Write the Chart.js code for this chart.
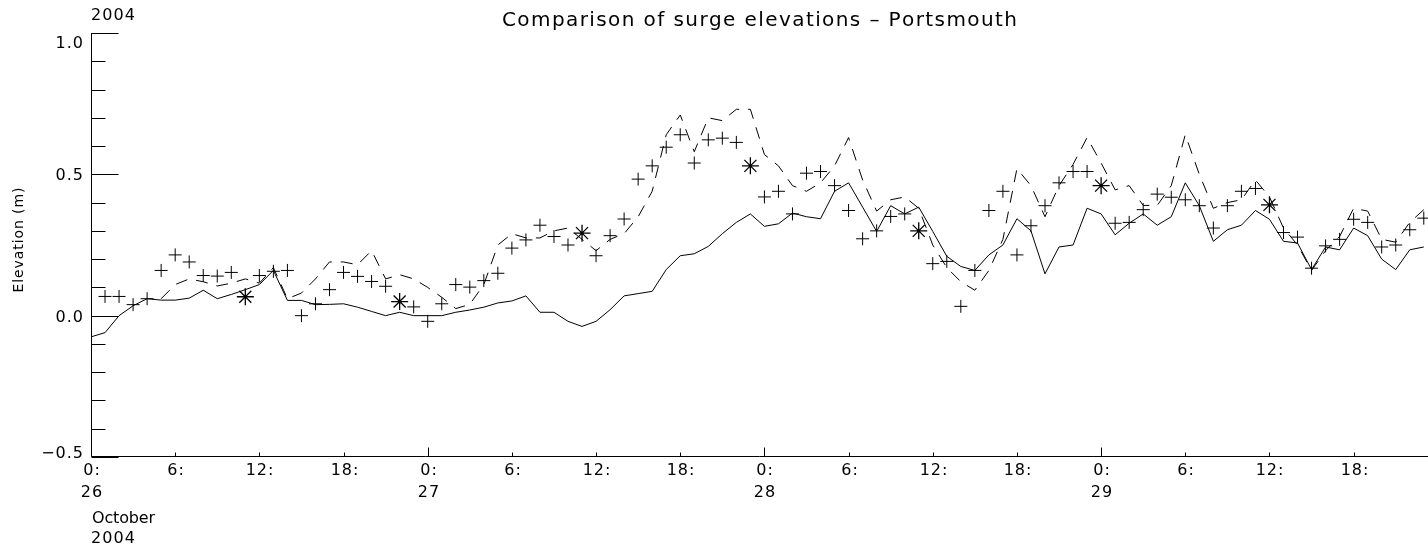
<!DOCTYPE html>
<html>
<head>
<meta charset="utf-8">
<script src="https://cdn.jsdelivr.net/npm/chart.js@4/dist/chart.umd.min.js"></script>
<style>
  html, body { margin: 0; padding: 0; background: #fff; overflow: hidden; }
  canvas { display: block; }
</style>
</head>
<body>
<canvas id="surge" width="1428" height="548"></canvas>
<script>
// one value per hour, starting 0:00 26 October 2004
const modelSolid = [
  -0.075, -0.06, 0.0, 0.035, 0.06, 0.055, 0.055, 0.062, 0.09, 0.06,
  0.075, 0.092, 0.11, 0.16, 0.054, 0.054, 0.039, 0.04, 0.042, 0.03,
  0.015, 0.0, 0.012, 0.0, 0.0, 0.0, 0.012, 0.02, 0.03, 0.045,
  0.052, 0.07, 0.012, 0.012, -0.02, -0.038, -0.02, 0.021, 0.07, 0.078,
  0.086, 0.163, 0.212, 0.219, 0.245, 0.29, 0.33, 0.36, 0.316, 0.325,
  0.363, 0.35, 0.343, 0.44, 0.47, 0.384, 0.298, 0.389, 0.36, 0.384,
  0.298, 0.21, 0.174, 0.16, 0.215, 0.25, 0.343, 0.30, 0.148, 0.243,
  0.25, 0.38, 0.36, 0.286, 0.327, 0.36, 0.32, 0.35, 0.47, 0.389,
  0.263, 0.304, 0.32, 0.372, 0.341, 0.263, 0.257, 0.163, 0.243, 0.233,
  0.31, 0.283, 0.2, 0.163, 0.233, 0.243
];

const modelDashed = [
  null, null, null, null, null, 0.06, 0.11, 0.13, 0.12, 0.105,
  0.115, 0.13, 0.115, 0.17, 0.06, 0.08, 0.13, 0.19, 0.19, 0.18,
  0.23, 0.13, 0.145, 0.13, 0.10, 0.065, 0.025, 0.04, 0.11, 0.25,
  0.29, 0.275, 0.275, 0.30, 0.31, 0.27, 0.23, 0.27, 0.29, 0.35,
  0.44, 0.64, 0.71, 0.58, 0.70, 0.69, 0.73, 0.73, 0.57, 0.53,
  0.46, 0.44, 0.47, 0.53, 0.63, 0.48, 0.37, 0.41, 0.42, 0.38,
  0.25, 0.17, 0.12, 0.09, 0.16, 0.27, 0.52, 0.46, 0.35, 0.46,
  0.535, 0.63, 0.54, 0.445, 0.46, 0.39, 0.39, 0.46, 0.64, 0.50,
  0.38, 0.40, 0.41, 0.48, 0.42, 0.31, 0.25, 0.16, 0.23, 0.28,
  0.38, 0.37, 0.27, 0.26, 0.33, 0.375
];

const observed = [
  null, 0.068, 0.068, 0.039, 0.06, 0.16, 0.215, 0.19, 0.142, 0.14,
  0.153, null, 0.142, 0.157, 0.16, 0.0, 0.042, 0.092, 0.153, 0.139,
  0.121, 0.104, null, 0.031, -0.02, 0.042, 0.11, 0.101, 0.124, 0.15,
  0.239, 0.268, 0.32, 0.28, 0.25, null, 0.212, 0.283, 0.342, 0.483,
  0.53, 0.596, 0.64, 0.54, 0.622, 0.628, 0.613, null, 0.42, 0.44,
  0.36, 0.504, 0.51, 0.46, 0.372, 0.272, 0.30, 0.351, 0.36, null,
  0.184, 0.192, 0.033, 0.16, 0.372, 0.44, 0.215, 0.318, 0.389, 0.47,
  0.51, 0.51, null, 0.327, 0.33, 0.375, 0.43, 0.419, 0.41, 0.389,
  0.31, 0.389, 0.44, 0.45, null, 0.294, 0.278, 0.168, 0.247, 0.27,
  0.341, 0.33, 0.243, 0.25, 0.304, 0.345
];

// high water observations (asterisks)
const hwHours = [11, 22, 35, 47, 59, 72, 84];
const hwValues = [0.067, 0.05, 0.292, 0.53, 0.30, 0.46, 0.392];

const hourLabels = ['0:', '6:', '12:', '18:'];
const dayLabels = ['26', '27', '28', '29'];
const yTickValues = [-0.5, 0.0, 0.5, 1.0];
const yTickLabels = ['\u22120.5', '0.0', '0.5', '1.0'];

const toPoints = vals => vals.map((v, h) => ({x: h, y: v}));

// draws text char by char so the spacing can be stretched like the IDL font
function spaced(ctx, text, x, y, opts) {
    const chars = [...text];
    const widths = chars.map(c => ctx.measureText(c).width);
    const raw = widths.reduce((a, b) => a + b, 0);
    let gap = opts.gap || 0;
    if (opts.width) gap = (opts.width - raw) / (chars.length - 1);
    const total = raw + gap * (chars.length - 1);
    let left = x;
    if (opts.align === 'center') left = x - total / 2;
    if (opts.align === 'right') left = x - total;
    chars.forEach((c, i) => {
        ctx.fillText(c, left, y);
        left += widths[i] + gap;
    });
}

const idlAxes = {
    id: 'idlAxes',
    afterDraw(chart) {
        const ctx = chart.ctx;
        const xs = chart.scales.x;
        const ys = chart.scales.y;
        const area = chart.chartArea;
        const left = Math.round(area.left) + 0.5;
        const bottom = Math.round(area.bottom) - 0.5;

        ctx.save();
        ctx.strokeStyle = '#000';
        ctx.fillStyle = '#000';
        ctx.lineWidth = 1;
        ctx.textAlign = 'left';
        ctx.textBaseline = 'alphabetic';

        // axis lines
        ctx.beginPath();
        ctx.moveTo(left, area.top);
        ctx.lineTo(left, bottom);
        ctx.lineTo(area.right, bottom);
        ctx.stroke();

        // y ticks every 0.1, long ones every 0.5
        for (let k = -5; k <= 10; k++) {
            const py = Math.round(ys.getPixelForValue(k / 10)) + 0.5;
            const len = k % 5 === 0 ? 27 : 14;
            ctx.beginPath();
            ctx.moveTo(left, py);
            ctx.lineTo(left + len, py);
            ctx.stroke();
        }

        // x ticks every 6 hours, longer at midnight
        ctx.font = '16px "DejaVu Sans"';
        for (let h = 0; h <= xs.max; h += 6) {
            const px = Math.round(xs.getPixelForValue(h)) + 0.5;
            const len = h % 24 === 0 ? 9 : 4;
            ctx.beginPath();
            ctx.moveTo(px, bottom);
            ctx.lineTo(px, bottom - len);
            ctx.stroke();
            spaced(ctx, hourLabels[(h / 6) % 4], px, 475, {gap: 1, align: 'center'});
            if (h % 24 === 0) {
                spaced(ctx, dayLabels[h / 24], px, 497, {gap: 1, align: 'center'});
            }
        }

        spaced(ctx, 'October', 92, 523, {width: 63});
        spaced(ctx, '2004', 91, 543, {width: 44});
        spaced(ctx, '2004', 91, 20, {width: 44});

        // y tick labels (IDL nudges the end labels inside the axis range)
        const nudge = {'-0.5': -5, '1': 9};
        yTickValues.forEach((v, i) => {
            const py = ys.getPixelForValue(v) + 6 + (nudge[String(v)] || 0);
            spaced(ctx, yTickLabels[i], 83, py, {gap: 1, align: 'right'});
        });

        // title
        ctx.font = '20px "DejaVu Sans"';
        spaced(ctx, 'Comparison of surge elevations \u2013 Portsmouth', (area.left + area.right) / 2, 26,
            {width: 515, align: 'center'});

        // y axis title
        ctx.font = '14px "DejaVu Sans"';
        ctx.translate(23, 240);
        ctx.rotate(-Math.PI / 2);
        spaced(ctx, 'Elevation (m)', 0, 0, {width: 105, align: 'center'});
        ctx.restore();
    }
};

new Chart(document.getElementById('surge'), {
    type: 'scatter',
    data: {
        datasets: [
            {
                data: toPoints(modelSolid),
                showLine: true,
                borderColor: '#000',
                borderWidth: 1,
                pointRadius: 0,
                tension: 0
            },
            {
                data: toPoints(modelDashed),
                showLine: true,
                borderColor: '#000',
                borderWidth: 1,
                borderDash: [12, 9],
                pointRadius: 0,
                tension: 0
            },
            {
                data: toPoints(observed),
                showLine: false,
                pointStyle: 'cross',
                pointRadius: 6.5,
                pointBorderWidth: 1,
                pointBorderColor: '#000'
            },
            {
                data: hwHours.map((h, i) => ({x: h, y: hwValues[i]})),
                showLine: false,
                pointStyle: 'star',
                pointRadius: 8.5,
                pointBorderWidth: 1.3,
                pointBorderColor: '#000'
            }
        ]
    },
    options: {
        responsive: false,
        animation: false,
        devicePixelRatio: 1,
        layout: {autoPadding: false, padding: {left: 91, right: 0, top: 33, bottom: 91}},
        plugins: {
            legend: {display: false},
            tooltip: {enabled: false}
        },
        scales: {
            x: {type: 'linear', min: 0, max: 95.3, display: false},
            y: {type: 'linear', min: -0.5, max: 1.0, display: false}
        }
    },
    plugins: [idlAxes]
});
</script>
</body>
</html>
